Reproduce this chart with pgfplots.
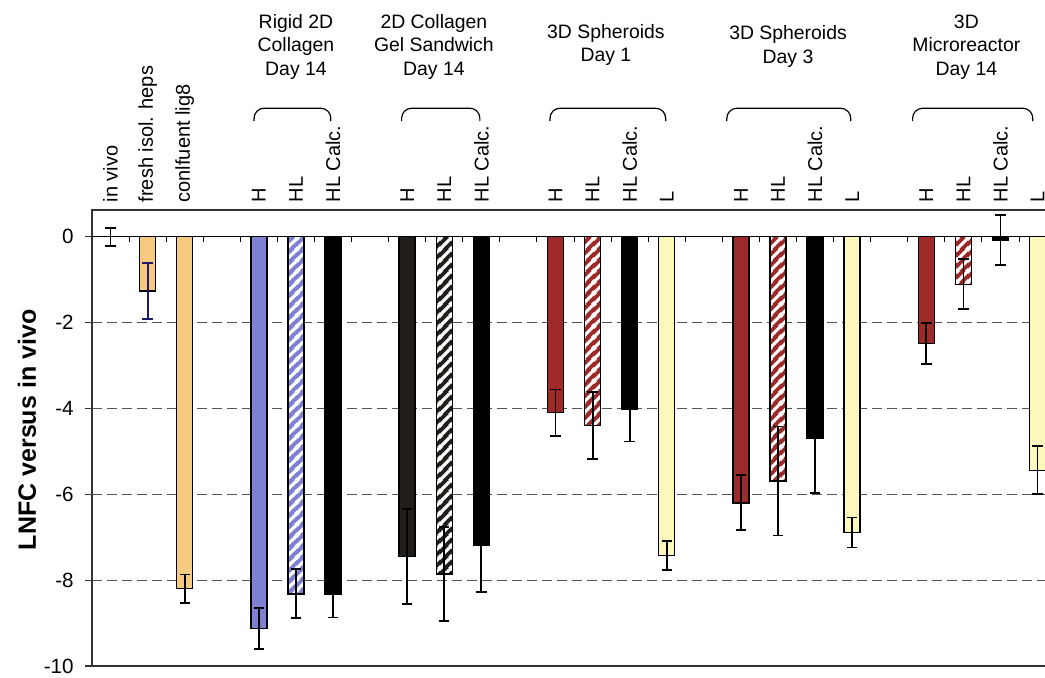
\documentclass[border=0pt]{standalone}
\usepackage{fontspec}
\setmainfont{Liberation Sans}
\usepackage{pgfplots}
\pgfplotsset{compat=1.18}
\usetikzlibrary{patterns}

\definecolor{cOrange}{HTML}{F6CA80}
\definecolor{cBlue}{HTML}{7E81D2}
\definecolor{cRed}{HTML}{9C2A29}
\definecolor{cYellow}{HTML}{FCF7BA}
\definecolor{cDark}{HTML}{221E1C}
\definecolor{cNavy}{HTML}{1C1C6A}
\definecolor{cGrid}{HTML}{555555}

\pgfdeclarepatternformonly{thickstripes}{\pgfpointorigin}{\pgfqpoint{5.5pt}{5.5pt}}{\pgfqpoint{5.5pt}{5.5pt}}{%
  \pgfsetlinewidth{1.7pt}%
  \pgfpathmoveto{\pgfqpoint{-1pt}{-1pt}}\pgfpathlineto{\pgfqpoint{6.5pt}{6.5pt}}%
  \pgfpathmoveto{\pgfqpoint{-1pt}{4.5pt}}\pgfpathlineto{\pgfqpoint{1pt}{6.5pt}}%
  \pgfpathmoveto{\pgfqpoint{4.5pt}{-1pt}}\pgfpathlineto{\pgfqpoint{6.5pt}{1pt}}%
  \pgfusepath{stroke}}

\newcommand{\lf}{\fontsize{10}{12}\selectfont}
\newcommand{\tf}{\fontsize{9.7}{11}\selectfont}
\newcommand{\lab}[2]{\node[rotate=90, anchor=west, inner sep=0pt, font=\lf] at (axis cs:#1,0.79) {#2};}
\newcommand{\ttl}[3]{\node[anchor=base, inner sep=0pt, font=\tf] at (axis cs:#1,#2) {#3};}
\newcommand{\brk}[2]{\draw[line width=0.6pt, rounded corners=5pt] (axis cs:#1,2.69) -- (axis cs:#1,2.99) -- (axis cs:#2,2.99) -- (axis cs:#2,2.69);}

\pgfplotsset{
  hatch/.style={fill=#1, draw=black, postaction={pattern=thickstripes, pattern color=white}},
}

\begin{document}
\begin{tikzpicture}
\useasboundingbox (-46pt,-5.5pt) rectangle (476.5pt,333pt);
\begin{axis}[
  at={(0pt,0pt)}, anchor=south west,
  scale only axis, width=476.5pt, height=228pt,
  xmin=-0.5, xmax=25.2, ymin=-10, ymax=0.62,
  clip=false,
  axis line style={draw=none},
  xtick=\empty,
  ytick={-10,-8,...,0},
  tick align=outside,
  major tick length=3.5pt,
  ytick style={line width=0.6pt, color=black!80},
  ymajorgrids,
  major grid style={dash pattern=on 5pt off 2.5pt, line width=0.6pt, color=cGrid},
  yticklabel style={font=\fontsize{10.3}{12}\selectfont, inner sep=0pt, xshift=-5.5pt},
  /pgf/number format/assume math mode=true,
  ybar,
  every axis plot/.append style={bar width=8pt, bar shift=0pt, line width=0.7pt},
  error bars/y dir=both, error bars/y explicit,
  error bars/error bar style={line width=0.9pt, draw=black},
  error bars/error mark options={rotate=90, mark size=2.6pt, line width=0.9pt, draw=black},
]
% in vivo (error bar only)
\addplot[draw=none, fill=none] coordinates {(0,0) +- (0,0.21)};
% fresh isolated heps
\addplot[fill=cOrange, draw=black,
  error bars/error bar style={line width=0.9pt, draw=cNavy},
  error bars/error mark options={rotate=90, mark size=2.6pt, line width=0.9pt, draw=cNavy}]
  coordinates {(1,-1.27) +- (0,0.65)};
% confluent
\addplot[fill=cOrange, draw=black] coordinates {(2,-8.20) +- (0,0.33)};
% blue solid
\addplot[fill=cBlue, draw=black] coordinates {(4,-9.12) +- (0,0.48)};
% blue hatched
\addplot[hatch=cBlue] coordinates {(5,-8.32) +- (0,0.57)};
% dark solid
\addplot[fill=cDark, draw=black] coordinates {(8,-7.45) +- (0,1.10)};
% dark hatched
\addplot[hatch=cDark] coordinates {(9,-7.86) +- (0,1.10)};
% red solid
\addplot[fill=cRed, draw=black] coordinates {(12,-4.10) +- (0,0.54) (17,-6.20) +- (0,0.64) (22,-2.49) +- (0,0.47)};
% red hatched
\addplot[hatch=cRed] coordinates {(13,-4.40) +- (0,0.78) (18,-5.69) +- (0,1.27) (23,-1.11) +- (0,0.58)};
% black (HL calc.)
\addplot[fill=black, draw=black] coordinates {(6,-8.32) +- (0,0.55) (10,-7.18) +- (0,1.10) (14,-4.01) +- (0,0.76) (19,-4.70) +- (0,1.28) (24,-0.08) +- (0,0.58)};
% yellow (L)
\addplot[fill=cYellow, draw=black] coordinates {(15,-7.42) +- (0,0.34) (20,-6.89) +- (0,0.35) (25,-5.44) +- (0,0.56)};

% frame and zero line
\draw[line width=0.6pt, black!80] (axis cs:25.2,0.62) -- (axis cs:-0.5,0.62) -- (axis cs:-0.5,-10) -- (axis cs:25.2,-10);
\draw[line width=0.7pt] (axis cs:-0.5,0) -- (axis cs:25.2,0);
\pgfplotsinvokeforeach{0,...,24}{\draw[line width=0.5pt] (axis cs:#1.5,0) -- ++(0pt,-2.5pt);}

% rotated labels
\lab{0}{in vivo}
\lab{1}{fresh isol. heps}
\lab{2}{conlfuent lig8}
\lab{4}{H}\lab{5}{HL}\lab{6}{HL Calc.}
\lab{8}{H}\lab{9}{HL}\lab{10}{HL Calc.}
\lab{12}{H}\lab{13}{HL}\lab{14}{HL Calc.}\lab{15}{L}
\lab{17}{H}\lab{18}{HL}\lab{19}{HL Calc.}\lab{20}{L}
\lab{22}{H}\lab{23}{HL}\lab{24}{HL Calc.}\lab{25}{L}

% group titles
\ttl{5.0}{4.85}{Rigid 2D}\ttl{5.0}{4.31}{Collagen}\ttl{5.0}{3.76}{Day 14}
\ttl{8.72}{4.85}{2D Collagen}\ttl{8.72}{4.31}{Gel Sandwich}\ttl{8.72}{3.76}{Day 14}
\ttl{13.36}{4.62}{3D Spheroids}\ttl{13.36}{4.08}{Day 1}
\ttl{18.27}{4.59}{3D Spheroids}\ttl{18.27}{4.04}{Day 3}
\ttl{23.08}{4.85}{3D}\ttl{23.08}{4.31}{Microreactor}\ttl{23.08}{3.76}{Day 14}

% brackets
\brk{3.87}{5.94}
\brk{7.85}{9.96}
\brk{11.85}{14.97}
\brk{16.62}{19.96}
\brk{21.63}{24.87}

% y label
\node[rotate=90, font=\bfseries\fontsize{12.5}{14}\selectfont] at ([xshift=-32.5pt]axis cs:-0.5,-4.5) {LNFC versus in vivo};
\end{axis}
\end{tikzpicture}
\end{document}
